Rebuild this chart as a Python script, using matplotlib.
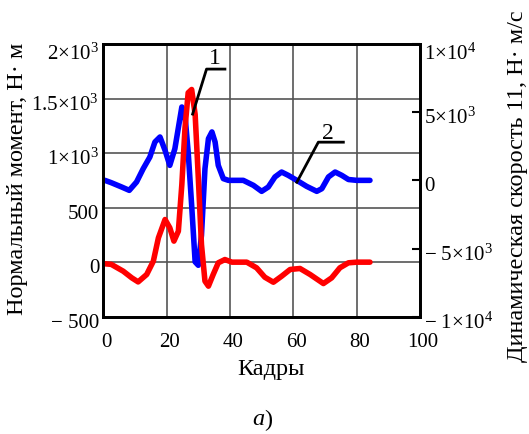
import matplotlib
matplotlib.use("Agg")
import matplotlib.pyplot as plt
from matplotlib.ticker import FixedLocator
from matplotlib.transforms import ScaledTranslation

plt.rcParams["font.family"] = ["Liberation Serif", "DejaVu Serif"]
plt.rcParams["mathtext.fontset"] = "custom"
plt.rcParams["mathtext.rm"] = "Liberation Serif"
plt.rcParams["mathtext.it"] = "Liberation Serif:italic"

# Curve 1: normal moment (left axis, N·m) vs frame number
frames_moment = [0.5, 2.5, 6.3, 9, 11, 13.7, 15.8, 17.4, 19.5, 21, 22.3, 23.7, 24.8,
                 25.8, 26.8, 27.9, 29, 30, 31, 32.1, 33.2, 34.7, 36.3, 38.4, 40.6,
                 45.3, 48.4, 51, 53.7, 56.3, 59, 62.1, 65.3, 69.5, 72.1, 74.7, 77.4,
                 80, 84.2]
moment = [-15, -20, -83, -144, -181, -113, 9, 223, 391, 315, 193, 284, 712,
          1232, 1553, 1583, 1354, 773, 161, -174, -220, -113, -6, 24, 0,
          0, -52, -138, -184, -129, -67, -58, -113, -196, -144, -52, -6,
          0, 0]

# Curve 2: dynamic speed (right axis, N·m/s) vs frame number
frames_speed = [0.5, 2.5, 5.8, 8.2, 10.5, 12.6, 14.7, 16.3, 17.9, 19.5, 21, 22.6,
                24.8, 25.8, 26.8, 27.9, 29, 30, 31, 32.1, 33.2, 34.3, 35.3, 36.3,
                37.9, 39.5, 44.2, 47.4, 50, 52.1, 54.2, 56.3, 58.4, 61.1, 64.2,
                67.4, 69, 71.1, 73.2, 75.3, 77.4, 80, 84.2]
speed = [0, -170, -489, -733, -122, 855, 1710, 2810, 3180, 2200, 1100, 2320,
         5380, 4760, 2080, -1830, -5980, -6230, -4030, 855, 3060, 3550, 2810, 1100,
         125, 0, 0, -367, -806, -489, 250, 611, 367, 0, -440,
         -806, -611, 250, 611, 367, 62, 0, 0]

MINUS = "\u2212 "
x_ticks = [0, 20, 40, 60, 80, 100]
left_ticks = [-500, 0, 500, 1000, 1500, 2000]
left_labels = [MINUS + "500", "0", "500", r"$1{\times}10^{3}$", r"$1.5{\times}10^{3}$",
               r"$2{\times}10^{3}$"]
right_ticks = [-10000, -5000, 0, 5000, 10000]
right_labels = [MINUS + r"$1{\times}10^{4}$", MINUS + r"$5{\times}10^{3}$", "0",
                r"$5{\times}10^{3}$", r"$1{\times}10^{4}$"]

W, H = 529, 435
fig = plt.figure(figsize=(W / 100, H / 100), dpi=100)
rect = [103.3 / W, 1 - 317.7 / H, 316.7 / W, 272.7 / H]

# right-scale axes drawn underneath (holds grid and curve 2)
axR = fig.add_axes(rect)
axL = fig.add_axes(rect, sharex=axR)
axL.set_zorder(axR.get_zorder() + 1)
axL.patch.set_visible(False)

axL.set_xlim(0, 100)
axL.set_ylim(-500, 2000)
axR.set_ylim(-10000, 10000)

# horizontal grid at left-axis values, expressed on the right scale
l0, l1 = axL.get_ylim()
r0, r1 = axR.get_ylim()
grid_right = [r0 + (v - l0) * (r1 - r0) / (l1 - l0) for v in left_ticks[1:-1]]
axR.yaxis.set_minor_locator(FixedLocator(grid_right))
axR.grid(True, axis="y", which="minor", color="#555555", lw=1.2)
axR.set_xticks(x_ticks)
axR.grid(True, axis="x", which="major", color="#555555", lw=1.2)

axR.plot(frames_speed, speed, color="#0000ff", lw=4.0, solid_capstyle="round",
         solid_joinstyle="round")
axL.plot(frames_moment, moment, color="#ff0000", lw=4.0, solid_capstyle="round",
         solid_joinstyle="round")

axR.yaxis.tick_right()
axR.set_yticks(right_ticks)
axR.set_yticklabels(right_labels)
axR.tick_params(axis="y", which="major", direction="in", length=6, width=1.5,
                labelsize=15, pad=3)
axR.tick_params(axis="y", which="minor", length=0)
axR.tick_params(axis="x", length=0, labelbottom=False)

axL.set_xticks(x_ticks)
axL.set_xticklabels([str(v) for v in x_ticks])
axL.set_yticks(left_ticks)
axL.set_yticklabels(left_labels)
axL.tick_params(axis="both", length=0, labelsize=15)
axL.tick_params(axis="y", pad=3)
axL.tick_params(axis="x", pad=11)

for a in (axL, axR):
    for s in a.spines.values():
        s.set_linewidth(2.0)
        s.set_color("black")


def nudge(labels, dx_px, dy_px, top_extra=0):
    n = len(labels)
    for i, lab in enumerate(labels):
        extra = top_extra if i == n - 1 else 0
        off = ScaledTranslation(dx_px / 100, -(dy_px + extra) / 100, fig.dpi_scale_trans)
        lab.set_transform(lab.get_transform() + off)


nudge(axL.get_xticklabels(), 3, 0)
nudge(axL.get_yticklabels(), 0, 3, top_extra=4)
nudge(axR.get_yticklabels(), 0, 3, top_extra=4)

# leader lines and curve numbers
axL.plot([0.282, 0.326, 0.384], [0.743, 0.908, 0.908], transform=axL.transAxes,
         color="black", lw=2.0, clip_on=False)
axL.text(0.353, 0.949, "1", transform=axL.transAxes, fontsize=17,
         ha="center", va="center")
axL.plot([0.611, 0.679, 0.758], [0.493, 0.640, 0.640], transform=axL.transAxes,
         color="black", lw=2.0, clip_on=False)
axL.text(0.710, 0.677, "2", transform=axL.transAxes, fontsize=17,
         ha="center", va="center")

fig.text(271 / W, 1 - 370 / H, "Кадры", fontsize=17.5, ha="center", va="center")
fig.text(18 / W, 1 - 179 / H, "Нормальный момент, Н· м", fontsize=17.5,
         rotation=90, ha="center", va="center")
fig.text(517 / W, 1 - 186 / H, "Динамическая скорость 11, Н· м/с", fontsize=17.5,
         rotation=90, ha="center", va="center")
fig.text(264 / W, 1 - 420 / H, "а", fontsize=17.5, style="italic", ha="right",
         va="center")
fig.text(264 / W, 1 - 420 / H, ")", fontsize=17.5, ha="left", va="center")

fig.savefig("out.png", dpi=100)
